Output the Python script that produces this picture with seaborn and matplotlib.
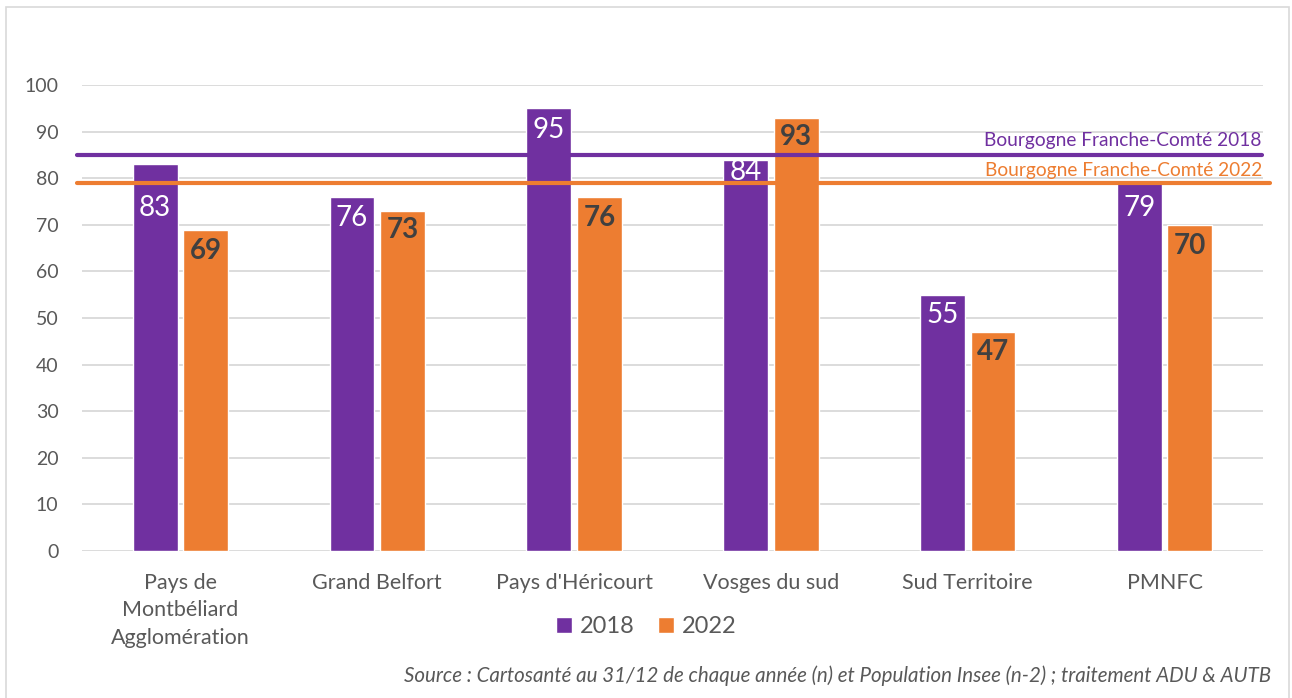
import pandas as pd
import matplotlib
matplotlib.use("Agg")
from matplotlib import pyplot as plt
from matplotlib.patches import Rectangle
import seaborn as sns

territoires = ["Pays de\nMontbéliard\nAgglomération", "Grand Belfort", "Pays d'Héricourt",
               "Vosges du sud", "Sud Territoire", "PMNFC"]
annees = ["2018", "2022"]
valeurs_2018 = [83, 76, 95, 84, 55, 79]
valeurs_2022 = [69, 73, 76, 93, 47, 70]
ref_bfc = {"2018": 85, "2022": 79}
source = "Source : Cartosanté au 31/12 de chaque année (n) et Population Insee (n-2) ; traitement ADU & AUTB"

violet = "#7030A0"
orange = "#ED7D31"
gris = "#595959"

df = pd.DataFrame({
    "territoire": territoires * 2,
    "annee": ["2018"] * len(territoires) + ["2022"] * len(territoires),
    "valeur": valeurs_2018 + valeurs_2022,
})

sns.set_theme(style="white")
plt.rcParams["font.family"] = ["Lato", "DejaVu Sans"]

fig = plt.figure(figsize=(12.92, 6.98), dpi=100)
ax = fig.add_axes([82 / 1292, 0.2106, 1181 / 1292, 0.6674])

sns.barplot(data=df, x="territoire", y="valeur", hue="annee", order=territoires,
            hue_order=annees, palette={"2018": violet, "2022": orange},
            width=0.513, gap=0.11, saturation=1, ax=ax, legend=True, zorder=3)

ax.set_xlim(-0.5, len(territoires) - 0.5)
ax.set_ylim(0, 100)
ax.set_yticks(range(0, 101, 10))
ax.grid(axis="y", color="#D9D9D9", linewidth=1.3, zorder=0)
ax.set_axisbelow(True)
sns.despine(ax=ax, left=True, bottom=True)
ax.set_xlabel("")
ax.set_ylabel("")
ax.tick_params(axis="y", labelsize=14, labelcolor=gris, length=0, pad=17)
ax.tick_params(axis="x", labelsize=15.5, labelcolor=gris, length=0, pad=16)
for lab in ax.get_xticklabels():
    lab.set_linespacing(1.45)

# valeurs dans les barres (décalage en pixels sous le haut de la barre)
decalages = {"2018": [44, 21, 22, 12, 20, 25], "2022": [21, 19, 21, 19, 20, 21]}
for annee, cont in zip(annees, ax.containers):
    for bar, dec in zip(cont, decalages[annee]):
        h = bar.get_height()
        ax.annotate(f"{h:.0f}", (bar.get_x() + bar.get_width() / 2, h),
                    xytext=(0, -dec), textcoords="offset pixels",
                    ha="center", va="center", fontsize=20, zorder=5,
                    color="white" if annee == "2018" else "#404040",
                    fontweight="normal" if annee == "2018" else "bold")

# lignes de référence régionales
for annee, couleur, xmax, dy in [("2018", violet, 0.999, 15), ("2022", orange, 1.006, 12)]:
    v = ref_bfc[annee]
    ax.axhline(v, xmin=-0.004, xmax=xmax, color=couleur, linewidth=3, zorder=4, clip_on=False)
    ax.annotate(f"Bourgogne Franche-Comté {annee}", (0.999, v),
                xycoords=("axes fraction", "data"), xytext=(0, dy),
                textcoords="offset pixels", ha="right", va="center",
                fontsize=13.8, color=couleur)

ax.legend(loc="center", bbox_to_anchor=(0.5, 0.102), bbox_transform=fig.transFigure,
          ncol=2, frameon=False, fontsize=17, handlelength=0.7, handleheight=0.7,
          handletextpad=0.3, columnspacing=1.0, labelcolor=gris)

fig.text(0.984, 0.032, source, ha="right", va="center", fontsize=14.8,
         style="italic", color=gris)

fig.patches.append(Rectangle((6 / 1292, -0.01), 1283 / 1292, 1.0, transform=fig.transFigure,
                             fill=False, edgecolor="#D9D9D9", linewidth=1.2))

fig.savefig("out.png", dpi=100)
